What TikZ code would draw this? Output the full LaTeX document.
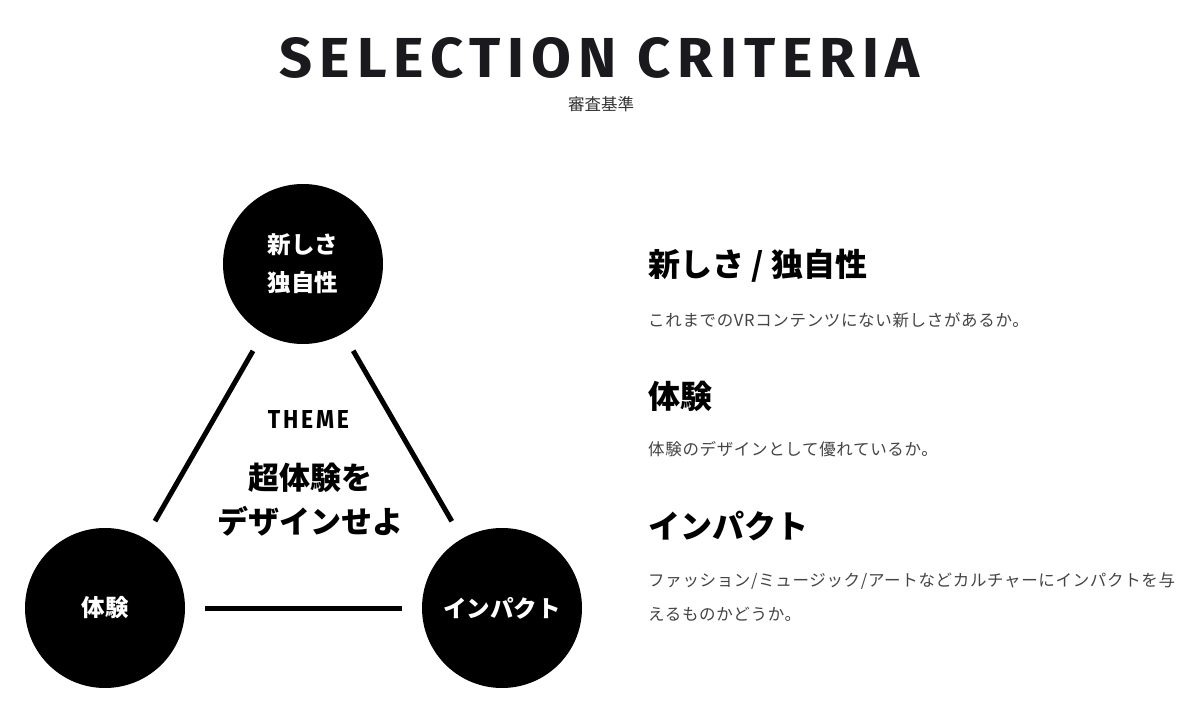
\documentclass[tikz,border=0pt]{standalone}
\usepackage{fontspec}
\newfontfamily\cjk{Noto Sans CJK JP}
\newfontfamily\cjkbody{Noto Sans CJK JP}[LetterSpace=4]
\newfontfamily\titlefont{Fira Sans}[LetterSpace=12]
\definecolor{titleink}{HTML}{1A1A1E}
\definecolor{bodygray}{HTML}{444444}
\definecolor{subgray}{HTML}{333333}
\begin{document}
\begin{tikzpicture}[x=1pt,y=-1pt,
  bubble/.style={circle, fill=black, minimum size=160pt, inner sep=0pt, text=white,
    font=\cjk\bfseries\fontsize{23.5}{38}\selectfont, align=center},
  link/.style={line width=5pt, shorten <=20pt, shorten >=20pt},
  headtext/.style={anchor=west, inner sep=0pt, font=\cjk\bfseries\fontsize{32}{38}\selectfont},
  bodytext/.style={anchor=west, inner sep=0pt, text=bodygray, align=left,
    font=\cjkbody\fontsize{16.5}{34}\selectfont},
]
\useasboundingbox[fill=white] (0,0) rectangle (1200,727);
% title
\node[inner sep=0pt, text=titleink] (title) at (600,57.7)
  {\resizebox{640pt}{40pt}{\titlefont\bfseries SELECTION CRITERIA}};
\node[inner sep=0pt, text=subgray, font=\cjk\fontsize{16.5}{20}\selectfont] (subtitle) at (601,104) {審査基準};
% triangle of circles
\node[bubble] (novel) at (303,264) {新しさ\\独自性};
\node[bubble] (exp) at (105,608) {体験};
\node[bubble] (impact) at (502,608) {インパクト};
\draw[link] (novel) -- (exp);
\draw[link] (novel) -- (impact);
\draw[link] (exp) -- (impact);
% theme
\node[inner sep=0pt] (theme) at (308.5,419.5)
  {\resizebox{81pt}{18pt}{\titlefont\bfseries THEME}};
\node[inner sep=0pt, align=center, font=\cjk\bfseries\fontsize{31}{44}\selectfont] (motto) at (310,500)
  {超体験を\\デザインせよ};
% right column
\node[headtext] (h1) at (648,266) {新しさ / 独自性};
\node[bodytext] (b1) at (648,320) {これまでのVRコンテンツにない新しさがあるか。};
\node[headtext] (h2) at (648,396) {体験};
\node[bodytext] (b2) at (648,449) {体験のデザインとして優れているか。};
\node[headtext] (h3) at (648,526) {インパクト};
\node[bodytext] (b3) at (648,597) {ファッション/ミュージック/アートなどカルチャーにインパクトを与\\えるものかどうか。};
\end{tikzpicture}
\end{document}
